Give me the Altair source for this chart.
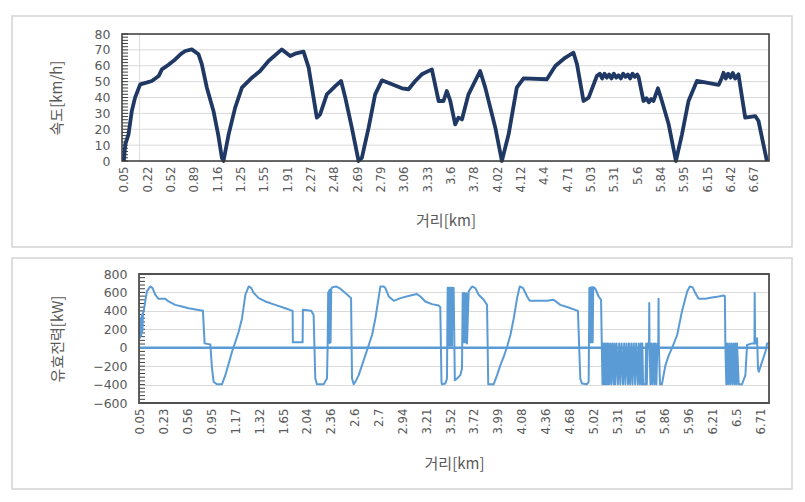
import json
import altair as alt
import pandas as pd

# ---------------- data ----------------
speed_labels = ["0.05", "0.22", "0.52", "0.89", "1.16", "1.25", "1.55", "1.91", "2.27", "2.48",
                "2.69", "2.79", "3.06", "3.33", "3.6", "3.78", "4.02", "4.12", "4.4", "4.71",
                "5.03", "5.31", "5.6", "5.84", "5.95", "6.15", "6.42", "6.67"]
power_labels = ["0.05", "0.23", "0.56", "0.95", "1.17", "1.32", "1.65", "2.04", "2.36", "2.6",
                "2.7", "2.94", "3.21", "3.52", "3.72", "3.99", "4.08", "4.36", "4.68", "5.02",
                "5.31", "5.61", "5.86", "5.96", "6.21", "6.5", "6.71"]

speed_ticks = [0, 10, 20, 30, 40, 50, 60, 70, 80]
speed_minor = [0, 2, 4, 6, 8, 10, 12, 14, 16, 18, 20, 22, 24, 26, 28, 30, 32, 34, 36, 38, 40,
               42, 44, 46, 48, 50, 52, 54, 56, 58, 60, 62, 64, 66, 68, 70, 72, 74, 76, 78, 80]
power_ticks = [-600, -400, -200, 0, 200, 400, 600, 800]
power_minor = [-600, -560, -520, -480, -440, -400, -360, -320, -280, -240, -200, -160, -120,
               -80, -40, 0, 40, 80, 120, 160, 200, 240, 280, 320, 360, 400, 440, 480, 520, 560,
               600, 640, 680, 720, 760, 800]

# position in units of the label step (category axis)
speed_pos = [0.0, 0.06, 0.2, 0.34, 0.48, 0.7, 1.0, 1.2, 1.49, 1.63, 1.9, 2.2, 2.45, 2.63, 2.91,
             3.2, 3.34, 3.56, 3.84, 4.05, 4.2, 4.27, 4.49, 4.77, 5.06, 5.49, 5.84, 6.2, 6.77,
             7.13, 7.34, 7.7, 7.92, 8.27, 8.41, 8.7, 9.06, 9.31, 9.49, 9.77, 10.06, 10.2, 10.49,
             10.77, 11.06, 11.49, 11.92, 12.2, 12.49, 12.77, 13.2, 13.49, 13.7, 13.84, 13.99,
             14.2, 14.34, 14.49, 14.77, 15.27, 15.49, 15.92, 16.2, 16.49, 16.84, 17.13, 18.13,
             18.49, 18.91, 19.27, 19.42, 19.7, 19.92, 20.27, 20.4, 20.5, 20.6, 20.7, 20.8, 20.9,
             21.0, 21.1, 21.2, 21.3, 21.4, 21.5, 21.6, 21.7, 21.8, 21.9, 22.0, 22.06, 22.27,
             22.4, 22.5, 22.6, 22.7, 22.89, 23.06, 23.35, 23.66, 23.92, 24.2, 24.56, 25.49,
             25.63, 25.7, 25.8, 25.9, 26.0, 26.1, 26.2, 26.34, 26.63, 27.06, 27.2, 27.56]
speed_kmh = [0, 10.5, 16.8, 31.5, 39.9, 48.3, 49.5, 50.4, 53.5, 57.7, 60.5, 64, 67.5, 69.3, 70.3,
             67.2, 61, 46, 31.5, 16, 2, 0, 16.8, 33.6, 46.2, 52.5, 56.7, 63, 70.3,
             66.1, 67.6, 68.9, 58.8, 27.3, 29.4, 42, 47.2, 50.4, 39.9, 21, 0, 2, 21,
             42, 50.8, 48.3, 45.8, 45.2, 50.4, 54.6, 57.7, 37.8, 37.8, 44.1, 37.8,
             23.1, 27.3, 26.2, 42, 56.7, 46.2, 21, 0, 16.8, 46.2, 52.1, 51.5,
             59.8, 65, 68.2, 61, 37.8, 39.9, 53.5, 55, 52, 55, 52.5, 54.5, 52,
             55, 52.5, 54, 52, 55, 53, 54.5, 52, 55, 53, 54.5, 53, 37.8,
             39.5, 37, 39, 37.8, 45.8, 37.8, 23.1, 0, 16.8, 37.8, 50.4, 47.9,
             52.5, 55.6, 52, 55, 52.5, 55.5, 52, 54.6, 27.3, 28.3, 25.2, 0]

power_pos = [0.0, 0.03, 0.05, 0.08, 0.1, 0.13, 0.155, 0.29, 0.43, 0.53, 0.64, 0.78, 1.06, 1.2,
             1.48, 1.76, 2.04, 2.64, 2.71, 2.95, 3.02, 3.09, 3.23, 3.44, 3.58, 3.72, 3.86, 4.0,
             4.14, 4.28, 4.42, 4.56, 4.67, 4.77, 4.98, 5.26, 5.67, 6.09, 6.4, 6.41, 6.82, 6.83,
             7.18, 7.28, 7.35, 7.42, 7.7, 7.84, 7.87, 7.89, 7.91, 7.93, 7.95, 7.97, 7.99, 8.02,
             8.05, 8.22, 8.4, 8.61, 8.82, 8.85, 8.89, 8.96, 9.03, 9.17, 9.31, 9.45, 9.59, 9.73,
             9.87, 10.08, 10.22, 10.29, 10.43, 10.64, 10.92, 11.34, 11.61, 11.76, 11.96, 12.24,
             12.52, 12.59, 12.64, 12.66, 12.8, 12.87, 12.9, 12.92, 12.94, 12.96, 12.98, 13.0,
             13.02, 13.04, 13.06, 13.08, 13.1, 13.15, 13.2, 13.29, 13.43, 13.5, 13.53, 13.55,
             13.57, 13.59, 13.61, 13.63, 13.65, 13.67, 13.69, 13.71, 13.78, 13.92, 14.06, 14.2,
             14.41, 14.55, 14.6, 14.83, 14.97, 15.11, 15.25, 15.39, 15.53, 15.67, 15.81, 15.92,
             16.06, 16.23, 16.34, 17.06, 17.34, 17.62, 17.97, 18.36, 18.46, 18.53, 18.74, 18.81,
             18.84, 18.86, 18.88, 18.9, 18.92, 18.94, 18.96, 18.98, 19.0, 19.02, 19.09, 19.23,
             19.33, 19.36, 19.39, 19.41, 19.46, 19.48, 19.53, 19.55, 19.6, 19.62, 19.67, 19.71,
             19.76, 19.8, 19.86, 19.89, 19.93, 19.98, 20.04, 20.09, 20.14, 20.19, 20.25, 20.3,
             20.35, 20.4, 20.46, 20.5, 20.55, 20.6, 20.65, 20.7, 20.76, 20.8, 20.87, 20.91,
             20.96, 21.0, 21.04, 21.06, 21.09, 21.19, 21.22, 21.25, 21.28, 21.34, 21.35, 21.36,
             21.4, 21.43, 21.48, 21.52, 21.57, 21.6, 21.65, 21.69, 21.73, 21.74, 21.75, 21.8,
             21.88, 22.03, 22.17, 22.3, 22.52, 22.72, 22.94, 23.05, 23.17, 23.28, 23.42, 23.7,
             23.98, 24.26, 24.47, 24.52, 24.54, 24.58, 24.61, 24.66, 24.7, 24.75, 24.79, 24.84,
             24.88, 24.93, 24.96, 25.01, 25.03, 25.1, 25.24, 25.38, 25.45, 25.66, 25.76, 25.77,
             25.79, 25.84, 25.87, 25.91, 25.94, 26.08, 26.22, 26.29, 26.37]
power_kw = [100, 320, 130, 360, 180, 380, 393, 611, 665, 647, 575, 531, 531, 502,
            465, 447, 429, 400, 47, 36, -225, -371, -396, -396, -298, -171, -44, 65,
            175, 320, 575, 665, 647, 593, 538, 502, 465, 429, 400, 58, 58, 411,
            400, 356, -335, -396, -396, -335, 50, 600, 60, 620, 50, 630, 60, 640,
            655, 665, 640, 593, 545, 538, -335, -396, -371, -298, -189, -80, 29, 138,
            320, 665, 665, 647, 556, 509, 538, 567, 582, 556, 502, 473,
            458, 440, -371, -396, -389, -335, 650, 20, 650, 30, 650, 20,
            650, 30, 650, 20, 650, 647, -353, -335, -298, -225, 593, 60,
            590, 60, 590, 60, 590, 60, 590, 47, 611, 665, 647, 575,
            520, 465, -396, -396, -298, -189, -98, 11, 138, 320, 538, 665,
            647, 556, 509, 509, 520, 465, 436, 400, -335, -389, -396, -371,
            647, 60, 650, 60, 655, 60, 655, 60, 655, 655, 640, 556,
            520, 47, -396, 47, -396, 47, -396, 47, -396, 47, -396, 47,
            -396, 47, -396, 47, -396, 47, -396, 47, -396, 47, -396, 47,
            -396, 47, -396, 47, -396, 47, -396, 47, -396, 47, -396, 47,
            -396, 47, -396, 47, -396, -396, 47, -396, 47, 47, 484, 47,
            -396, 47, -396, 47, -396, 47, -396, 47, 47, 531, 47, -396,
            -396, -189, -80, -7, 138, 393, 611, 665, 655, 593, 531, 531,
            545, 556, 567, 560, 47, -396, 47, -396, 47, -396, 47, -396,
            47, -396, 47, -396, 47, -396, -396, -298, 29, 47, 47, 593,
            47, 47, 102, -225, -262, -153, -44, 47, 47]
baseline_kw = [0]

# ---------------- style ----------------
FONT = "Noto Sans CJK KR"
TICK_FONT = "Liberation Sans Narrow, DejaVu Sans Condensed, Noto Sans"
YLABEL_FONT = "DejaVu Sans"
GRAY = "#595959"
GRID = "#d9d9d9"
FRAME = "#3a3a3a"
PANEL = "#d4d4d4"
SPEED_COLOR = "#1f3864"
POWER_COLOR = "#5b9bd5"

W, H1, H2 = 630, 127, 129
SHIFT = 17  # the upper plot area starts 17 px further left than the lower one


def label_expr(labels):
    return "[" + ",".join(json.dumps(s) for s in labels) + "][datum.value]"


def x_axis(labels, title_x, pad):
    return alt.Axis(values=list(range(len(labels))), labelExpr=label_expr(labels),
                    labelAngle=270, labelFont=TICK_FONT, labelFontSize=13, labelColor=GRAY,
                    labelPadding=5, ticks=False, domain=False, grid=False,
                    title="거리[km]", titleFont=FONT, titleFontSize=15, titleColor=GRAY,
                    titleFontWeight="normal", titlePadding=pad, titleX=title_x,
                    labelOverlap=False)


def y_axis(values, title, pad, offset, grid):
    return alt.Axis(orient="left", values=values, grid=grid, gridColor=GRID, ticks=False,
                    domain=False, labelFont=YLABEL_FONT, labelFontSize=12.5, labelColor=GRAY,
                    labelPadding=12, title=title, titleFont=FONT, titleFontSize=15,
                    titleColor=GRAY, titleFontWeight="normal", titlePadding=pad, offset=offset)


def box(x, x2, y, y2, color, width):
    return alt.Chart(alt.Data(values=[{}])).mark_rect(
        filled=False, stroke=color, strokeWidth=width, clip=False
    ).encode(x=alt.value(x), x2=alt.value(x2), y=alt.value(y), y2=alt.value(y2))


def minor_ticks(values, scale, axis, x0):
    df = pd.DataFrame({"v": values})
    return alt.Chart(df).mark_rule(color="#404040", strokeWidth=1).encode(
        y=alt.Y("v:Q", scale=scale, axis=axis), x=alt.value(x0), x2=alt.value(x0 + 6))


# ---------------- top: speed ----------------
speed_df = pd.DataFrame({"pos": speed_pos, "speed": speed_kmh, "i": range(len(speed_pos))})
sx = alt.Scale(domain=[-0.08, 27.65], range=[-SHIFT, W], nice=False, zero=False)
sy = alt.Scale(domain=[0, 80], nice=False)
ya1 = y_axis(speed_ticks, "속도[km/h]", 30, SHIFT, False)
grid_df = pd.DataFrame({"v": speed_ticks[1:-1]})

speed_grid = alt.Chart(grid_df).mark_rule(color=GRID, strokeWidth=1).encode(
    y=alt.Y("v:Q", scale=sy, axis=ya1), x=alt.value(-SHIFT), x2=alt.value(W))
speed_line = alt.Chart(speed_df).mark_line(color=SPEED_COLOR, strokeWidth=3.8, strokeJoin="round").encode(
    x=alt.X("pos:Q", scale=sx, axis=x_axis(speed_labels, (W - SHIFT) / 2, 21)),
    y=alt.Y("speed:Q", scale=sy, axis=ya1),
    order="i:Q",
)
top = alt.layer(
    speed_grid,
    minor_ticks(speed_minor, sy, ya1, -SHIFT),
    speed_line,
    box(-SHIFT, W, 0, H1, FRAME, 1.5),
    box(-127, W + 23, -18, H1 + 86, PANEL, 1.5),
).properties(width=W, height=H1)

# ---------------- bottom: power ----------------
power_df = pd.DataFrame({"pos": power_pos, "kw": power_kw, "i": range(len(power_pos))})
base_df = pd.DataFrame({"kw": baseline_kw})
px_ = alt.Scale(domain=[-0.04, 26.37], nice=False, zero=False)
py_ = alt.Scale(domain=[-600, 800], nice=False)
ya2 = y_axis(power_ticks, "유효전력[kW]", 27, 0, True)

power_line = alt.Chart(power_df).mark_line(color=POWER_COLOR, strokeWidth=2, strokeJoin="round").encode(
    x=alt.X("pos:Q", scale=px_, axis=x_axis(power_labels, W / 2, 22)),
    y=alt.Y("kw:Q", scale=py_, axis=ya2),
    order="i:Q",
)
zero_rule = alt.Chart(base_df).mark_rule(color=POWER_COLOR, strokeWidth=2.5).encode(
    y=alt.Y("kw:Q", scale=py_, axis=ya2)
)
bottom = alt.layer(
    minor_ticks(power_minor, py_, ya2, 0),
    zero_rule,
    power_line,
    box(0, W, 0, H2, "#505050", 1.8),
    box(-127, W + 23, -16, H2 + 86, PANEL, 1.5),
).properties(width=W, height=H2)

chart = alt.concat(top, bottom, columns=1, spacing=7).properties(
    padding={"left": 2, "top": 6, "right": 2, "bottom": 2}
).configure_view(strokeOpacity=0).configure(background="white")

chart.save("out.html", embed_options={"renderer": "svg", "actions": False})
